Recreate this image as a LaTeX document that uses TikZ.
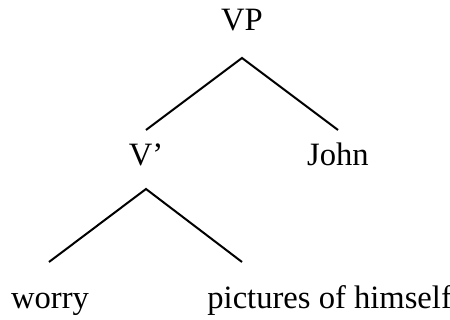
\documentclass[tikz,border=0pt]{standalone}
\usepackage{fontspec}
\setmainfont{Liberation Serif}
\begin{document}
\begin{tikzpicture}[x=0.5pt,y=-0.5pt,
    word/.style={inner sep=0pt,anchor=base,font=\fontsize{16.3}{19}\selectfont},
    branch/.style={line width=1pt}]
		\useasboundingbox (0,0) rectangle (450,320);
		\node[word] (vp) at (242,31) {VP};
		\node[word] (vbar) at (146,166) {V’};
		\node[word] (john) at (338,166) {John};
		\node[word] (worry) at (50,309) {worry};
		\node[word,anchor=base west] (pics) at (207,309) {pictures of himself};
		
		\coordinate (vp-a) at (242,58); \coordinate (vp-l) at (146,130); \coordinate (vp-r) at (338,130);
		\coordinate (vbar-a) at (146,189); \coordinate (vbar-l) at (49,262); \coordinate (vbar-r) at (242,262);
		
		\draw[branch] (vp-l) -- (vp-a) -- (vp-r);
		\draw[branch] (vbar-l) -- (vbar-a) -- (vbar-r);
    \end{tikzpicture}
\end{document}
